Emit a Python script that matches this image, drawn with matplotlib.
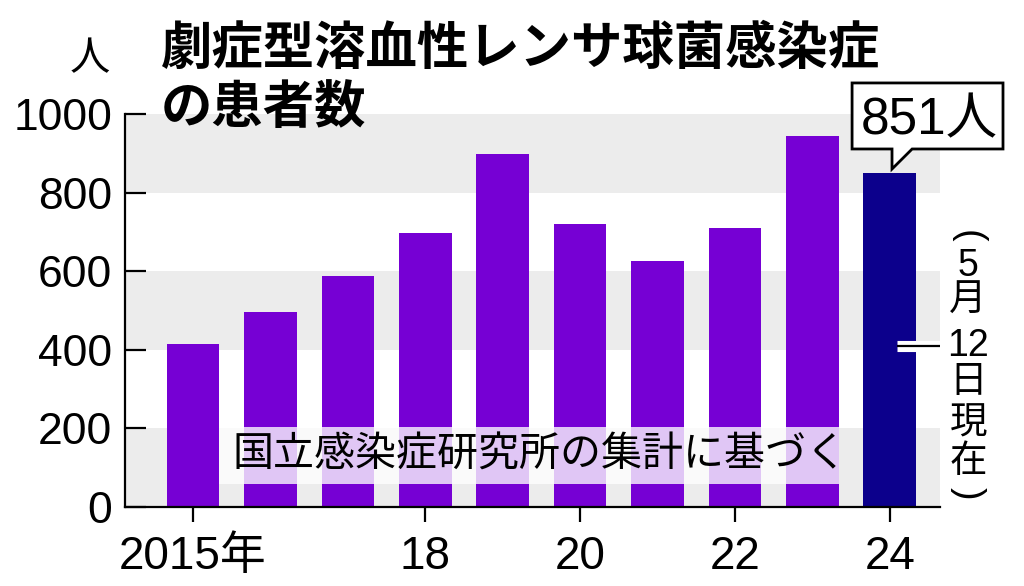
import matplotlib
matplotlib.use("Agg")
import matplotlib.pyplot as plt
import matplotlib.patheffects as pe
from matplotlib.patches import Polygon, Rectangle

# データ
years = [2015, 2016, 2017, 2018, 2019, 2020, 2021, 2022, 2023, 2024]
cases = [416, 495, 589, 696, 898, 719, 625, 709, 944, 851]
tick_years = [2015, 2018, 2020, 2022, 2024]
tick_labels = ["2015年", "18", "20", "22", "24"]
y_ticks = [0, 200, 400, 600, 800, 1000]

TITLE_1 = "劇症型溶血性レンサ球菌感染症"
TITLE_2 = "の患者数"
SOURCE = "国立感染症研究所の集計に基づく"
UNIT = "人"
NOTE_CHARS = ["(", "5", "月", "12", "日", "現", "在", ")"]

PURPLE = "#7600d4"
NAVY = "#0c008c"
STRIPE = "#ececec"
CJK = "Noto Sans CJK JP"

plt.rcParams["font.family"] = ["Liberation Sans", CJK]

fig = plt.figure(figsize=(10.24, 5.86), dpi=100)
ax = fig.add_axes([0.12207, 0.13481, 0.79590, 0.67065])
ax.set_xlim(2014.12, 2024.65)
ax.set_ylim(0, 1000)

# 背景の縞
for lo in (0, 400, 800):
    ax.axhspan(lo, lo + 200, color=STRIPE, lw=0, zorder=0)

bar_w = 0.68
colors = [PURPLE] * (len(years) - 1) + [NAVY]
ax.bar(years, cases, width=bar_w, color=colors, zorder=2)

# 出典ボックス
src_x0 = years[0] + bar_w / 2
src_x1 = years[-2] + bar_w / 2
ax.add_patch(Rectangle((src_x0, 58), src_x1 - src_x0, 146,
                       facecolor="white", edgecolor="none", alpha=0.78, zorder=3))
ax.text(src_x0 + 0.17, 131, SOURCE, family=CJK, fontsize=29.5,
        ha="left", va="center", zorder=4)

# 軸
for s in ("top", "right"):
    ax.spines[s].set_visible(False)
for s in ("left", "bottom"):
    ax.spines[s].set_linewidth(1.6)
ax.set_yticks(y_ticks)
ax.set_xticks(tick_years)
ax.set_xticklabels(tick_labels)
ax.tick_params(axis="y", direction="in", length=15, width=1.6, pad=9, labelsize=32)
ax.tick_params(axis="x", direction="out", length=11, width=1.6, pad=9, labelsize=33)

# 単位
ax.text(2013.67, 1142, UNIT, family=CJK, fontsize=29, ha="center", va="center",
        clip_on=False)

# タイトル
fig.text(0.157, 0.8908, TITLE_1, family=CJK, fontweight="bold", fontsize=37,
         ha="left", va="baseline")
fig.text(0.157, 0.790, TITLE_2, family=CJK, fontweight="bold", fontsize=37,
         ha="left", va="baseline")

# 吹き出し 851人
hx, hv = years[-1], cases[-1]
callout = Polygon([
    (hx - 0.486, hv + 60), (hx + 0.03, hv + 60), (hx + 0.03, hv + 9),
    (hx + 0.29, hv + 60), (hx + 1.464, hv + 60), (hx + 1.464, hv + 228),
    (hx - 0.486, hv + 228)],
    closed=True, facecolor="white", edgecolor="black", lw=2,
    clip_on=False, zorder=5)
ax.add_patch(callout)
ax.text(hx + 0.508, hv + 96, f"{hv}{UNIT}", fontsize=37,
        ha="center", va="baseline", zorder=6, clip_on=False)

# 引き出し線と縦書き注記
ax.plot([hx + 0.1, 2024.65], [410, 410], color="black", lw=1.6, zorder=4,
        solid_capstyle="butt", clip_on=False,
        path_effects=[pe.withStroke(linewidth=8, foreground="white")])
note_y = [688, 614, 524, 410, 318, 212, 114, 36]
for ch, y in zip(NOTE_CHARS, note_y):
    rot = -90 if ch in "()" else 0
    ax.text(2025.013, y, ch, fontsize=27, ha="center", va="center",
            rotation=rot, clip_on=False, zorder=6)

fig.savefig("out.png", dpi=100)
